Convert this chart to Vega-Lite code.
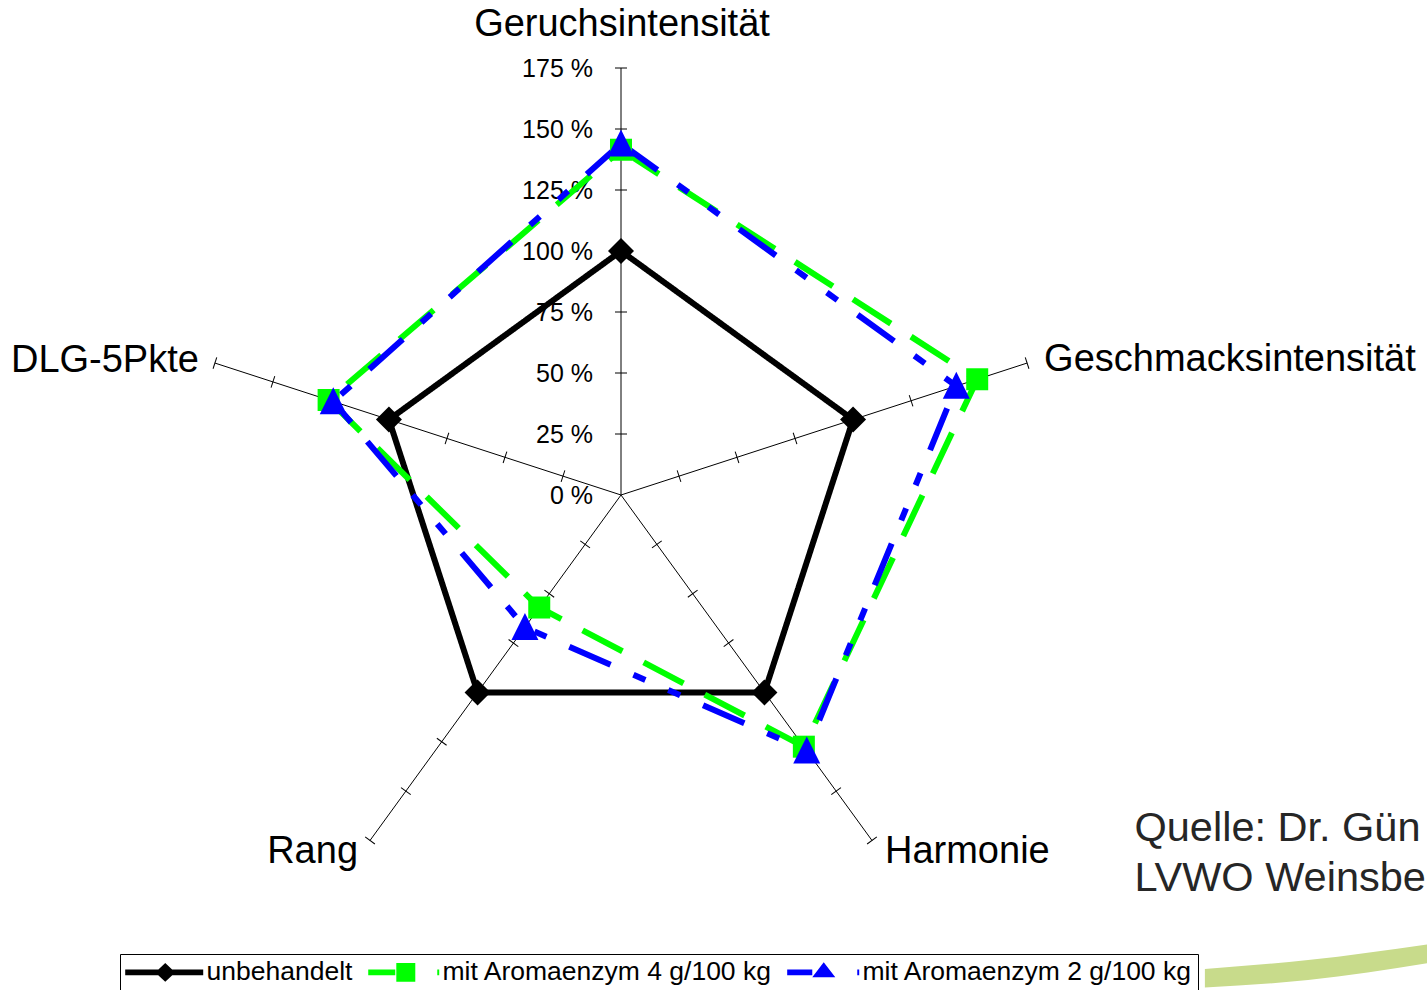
{
  "$schema": "https://vega.github.io/schema/vega-lite/v6.json",
  "width": 1427,
  "height": 990,
  "padding": 0,
  "autosize": {"type": "none"},
  "background": "#ffffff",
  "config": {"view": {"stroke": null}, "font": "Liberation Sans"},
  "datasets": {
    "achsen": [
      {"kategorie": "Geruchsintensität", "marken": [25, 50, 75, 100, 125, 150, 175]},
      {"kategorie": "Geschmacksintensität", "marken": [25, 50, 75, 100, 125, 150, 175]},
      {"kategorie": "Harmonie", "marken": [25, 50, 75, 100, 125, 150, 175]},
      {"kategorie": "Rang", "marken": [25, 50, 75, 100, 125, 150, 175]},
      {"kategorie": "DLG-5Pkte", "marken": [25, 50, 75, 100, 125, 150, 175]}
    ],
    "skala": [{"t": 0}, {"t": 25}, {"t": 50}, {"t": 75}, {"t": 100}, {"t": 125}, {"t": 150}, {"t": 175}],
    "werte": [
      {"serie": "unbehandelt", "kategorie": "Geruchsintensität", "wert": 100},
      {"serie": "unbehandelt", "kategorie": "Geschmacksintensität", "wert": 100},
      {"serie": "unbehandelt", "kategorie": "Harmonie", "wert": 100},
      {"serie": "unbehandelt", "kategorie": "Rang", "wert": 100},
      {"serie": "unbehandelt", "kategorie": "DLG-5Pkte", "wert": 100},
      {"serie": "mit Aromaenzym 4 g/100 kg", "kategorie": "Geruchsintensität", "wert": 141.5},
      {"serie": "mit Aromaenzym 4 g/100 kg", "kategorie": "Geschmacksintensität", "wert": 153.5},
      {"serie": "mit Aromaenzym 4 g/100 kg", "kategorie": "Harmonie", "wert": 127.5},
      {"serie": "mit Aromaenzym 4 g/100 kg", "kategorie": "Rang", "wert": 57},
      {"serie": "mit Aromaenzym 4 g/100 kg", "kategorie": "DLG-5Pkte", "wert": 126},
      {"serie": "mit Aromaenzym 2 g/100 kg", "kategorie": "Geruchsintensität", "wert": 144},
      {"serie": "mit Aromaenzym 2 g/100 kg", "kategorie": "Geschmacksintensität", "wert": 144.5},
      {"serie": "mit Aromaenzym 2 g/100 kg", "kategorie": "Harmonie", "wert": 129.5},
      {"serie": "mit Aromaenzym 2 g/100 kg", "kategorie": "Rang", "wert": 67},
      {"serie": "mit Aromaenzym 2 g/100 kg", "kategorie": "DLG-5Pkte", "wert": 124}
    ],
    "deko": [
      {"bx": 239.3, "oben": -194.3, "unten": -201.8},
      {"bx": 281.6, "oben": -190.6, "unten": -198.8},
      {"bx": 331.6, "oben": -184.0, "unten": -191.7}
    ],
    "quelle": [
      {"zeilen": ["Quelle: Dr. Gün", "LVWO Weinsberg"]}
    ]
  },
  "resolve": {"scale": {"color": "independent", "shape": "independent"}},
  "encoding": {
    "x": {"field": "px", "type": "quantitative", "scale": {"domain": [-254.51, 330.33], "nice": false, "zero": false}, "axis": null},
    "y": {"field": "py", "type": "quantitative", "scale": {"domain": [-202.87, 202.87], "nice": false, "zero": false}, "axis": null}
  },
  "layer": [
    {
      "data": {"name": "deko"},
      "mark": {"type": "area", "color": "#c8db8b", "interpolate": "monotone", "clip": true},
      "encoding": {
        "x": {"field": "bx", "type": "quantitative"},
        "y": {"field": "oben", "type": "quantitative"},
        "y2": {"field": "unten"}
      }
    },
    {
      "data": {"name": "achsen"},
      "transform": [
        {"calculate": "PI/2 - indexof(['Geruchsintensität','Geschmacksintensität','Harmonie','Rang','DLG-5Pkte'], datum.kategorie) * 2 * PI / 5", "as": "a"},
        {"calculate": "175 * cos(datum.a)", "as": "px"},
        {"calculate": "175 * sin(datum.a)", "as": "py"}
      ],
      "mark": {"type": "rule", "color": "#000000", "strokeWidth": 1},
      "encoding": {
        "x": {"datum": 0, "type": "quantitative"},
        "y": {"datum": 0, "type": "quantitative"},
        "x2": {"field": "px"},
        "y2": {"field": "py"}
      }
    },
    {
      "data": {"name": "achsen"},
      "transform": [
        {"flatten": ["marken"]},
        {"calculate": "PI/2 - indexof(['Geruchsintensität','Geschmacksintensität','Harmonie','Rang','DLG-5Pkte'], datum.kategorie) * 2 * PI / 5", "as": "a"},
        {"calculate": "datum.marken * cos(datum.a)", "as": "px"},
        {"calculate": "datum.marken * sin(datum.a)", "as": "py"},
        {"calculate": "90 - datum.a * 180 / PI", "as": "rot"}
      ],
      "mark": {"type": "point", "shape": "M-1,0L1,0", "size": 144, "filled": false, "stroke": "#000000", "strokeWidth": 1, "opacity": 1},
      "encoding": {
        "angle": {"field": "rot", "type": "quantitative", "scale": null}
      }
    },
    {
      "data": {"name": "skala"},
      "transform": [
        {"calculate": "0", "as": "px"},
        {"calculate": "datum.t", "as": "py"},
        {"calculate": "datum.t + ' %'", "as": "label"}
      ],
      "mark": {"type": "text", "align": "right", "baseline": "middle", "dx": -28, "dy": 1, "fontSize": 25, "font": "Liberation Sans", "color": "#000000"},
      "encoding": {"text": {"field": "label"}}
    },
    {
      "data": {"name": "achsen"},
      "transform": [
        {"filter": "datum.kategorie === 'Geruchsintensität'"},
        {"calculate": "0", "as": "px"},
        {"calculate": "175", "as": "py"}
      ],
      "mark": {"type": "text", "align": "center", "baseline": "middle", "dx": 1, "dy": -43, "fontSize": 38, "font": "Liberation Sans", "color": "#000000"},
      "encoding": {"text": {"field": "kategorie"}}
    },
    {
      "data": {"name": "achsen"},
      "transform": [
        {"filter": "datum.kategorie === 'Geschmacksintensität'"},
        {"calculate": "175 * cos(PI/2 - 2*PI/5)", "as": "px"},
        {"calculate": "175 * sin(PI/2 - 2*PI/5)", "as": "py"}
      ],
      "mark": {"type": "text", "align": "left", "baseline": "middle", "dx": 17, "dy": -3, "fontSize": 38, "font": "Liberation Sans", "color": "#000000"},
      "encoding": {"text": {"field": "kategorie"}}
    },
    {
      "data": {"name": "achsen"},
      "transform": [
        {"filter": "datum.kategorie === 'Harmonie'"},
        {"calculate": "175 * cos(PI/2 - 4*PI/5)", "as": "px"},
        {"calculate": "175 * sin(PI/2 - 4*PI/5)", "as": "py"}
      ],
      "mark": {"type": "text", "align": "left", "baseline": "middle", "dx": 13, "dy": 12, "fontSize": 38, "font": "Liberation Sans", "color": "#000000"},
      "encoding": {"text": {"field": "kategorie"}}
    },
    {
      "data": {"name": "achsen"},
      "transform": [
        {"filter": "datum.kategorie === 'Rang'"},
        {"calculate": "175 * cos(PI/2 - 6*PI/5)", "as": "px"},
        {"calculate": "175 * sin(PI/2 - 6*PI/5)", "as": "py"}
      ],
      "mark": {"type": "text", "align": "right", "baseline": "middle", "dx": -12, "dy": 12, "fontSize": 38, "font": "Liberation Sans", "color": "#000000"},
      "encoding": {"text": {"field": "kategorie"}}
    },
    {
      "data": {"name": "achsen"},
      "transform": [
        {"filter": "datum.kategorie === 'DLG-5Pkte'"},
        {"calculate": "175 * cos(PI/2 - 8*PI/5)", "as": "px"},
        {"calculate": "175 * sin(PI/2 - 8*PI/5)", "as": "py"}
      ],
      "mark": {"type": "text", "align": "right", "baseline": "middle", "dx": -16, "dy": -2, "fontSize": 38, "font": "Liberation Sans", "color": "#000000"},
      "encoding": {"text": {"field": "kategorie"}}
    },
    {
      "data": {"name": "werte"},
      "transform": [
        {"calculate": "indexof(['Geruchsintensität','Geschmacksintensität','Harmonie','Rang','DLG-5Pkte'], datum.kategorie)", "as": "idx"},
        {"calculate": "PI/2 - datum.idx * 2 * PI / 5", "as": "a"},
        {"calculate": "datum.wert * cos(datum.a)", "as": "px"},
        {"calculate": "datum.wert * sin(datum.a)", "as": "py"}
      ],
      "mark": {"type": "line", "interpolate": "linear-closed", "strokeWidth": 6, "strokeJoin": "miter"},
      "encoding": {
        "color": {"field": "serie", "type": "nominal", "scale": {"domain": ["unbehandelt", "mit Aromaenzym 4 g/100 kg", "mit Aromaenzym 2 g/100 kg"], "range": ["#000000", "#00ff00", "#0000ff"]}, "legend": null},
        "strokeDash": {"field": "serie", "type": "nominal", "scale": {"domain": ["unbehandelt", "mit Aromaenzym 4 g/100 kg", "mit Aromaenzym 2 g/100 kg"], "range": [[1, 0], [45, 24], [45, 25, 13, 25, 13, 25]]}, "legend": null},
        "order": {"field": "idx", "type": "quantitative"}
      }
    },
    {
      "data": {"name": "werte"},
      "transform": [
        {"calculate": "indexof(['Geruchsintensität','Geschmacksintensität','Harmonie','Rang','DLG-5Pkte'], datum.kategorie)", "as": "idx"},
        {"calculate": "PI/2 - datum.idx * 2 * PI / 5", "as": "a"},
        {"calculate": "datum.wert * cos(datum.a)", "as": "px"},
        {"calculate": "datum.wert * sin(datum.a)", "as": "py"}
      ],
      "mark": {"type": "point", "filled": true, "opacity": 1, "strokeWidth": 0, "size": 729},
      "encoding": {
        "color": {"field": "serie", "type": "nominal", "scale": {"domain": ["unbehandelt", "mit Aromaenzym 4 g/100 kg", "mit Aromaenzym 2 g/100 kg"], "range": ["#000000", "#00ff00", "#0000ff"]}, "legend": null},
        "shape": {"field": "serie", "type": "nominal", "scale": {"domain": ["unbehandelt", "mit Aromaenzym 4 g/100 kg", "mit Aromaenzym 2 g/100 kg"], "range": ["M-0.963,0L0,-0.963L0.963,0L0,0.963Z", "M-0.815,-0.815H0.815V0.815H-0.815Z", "M0,-1.05L1,0.95L-1,0.95Z"]}, "legend": null}
      }
    },
    {
      "data": {"name": "werte"},
      "transform": [
        {"filter": "false"}
      ],
      "mark": {"type": "point", "filled": true, "opacity": 1, "strokeWidth": 0},
      "encoding": {
        "x": {"datum": 0, "type": "quantitative"},
        "y": {"datum": 0, "type": "quantitative"},
        "color": {
          "field": "serie", "type": "nominal",
          "scale": {"domain": ["unbehandelt", "mit Aromaenzym 4 g/100 kg", "mit Aromaenzym 2 g/100 kg"], "range": ["#000000", "#00ff00", "#0000ff"]},
          "legend": {
            "title": null,
            "orient": "none",
            "legendX": 120,
            "legendY": 954,
            "direction": "horizontal",
            "columns": 3,
            "padding": 5,
            "strokeColor": "#000000",
            "fillColor": "#ffffff",
            "labelFont": "Liberation Sans",
            "labelFontSize": 26.5,
            "labelColor": "#000000",
            "labelOffset": 28,
            "labelLimit": 600,
            "columnPadding": 8,
            "symbolOffset": 27,
            "symbolSize": 676,
            "symbolStrokeWidth": 0,
            "symbolStrokeColor": "transparent",
            "symbolOpacity": 1
          }
        },
        "shape": {
          "field": "serie", "type": "nominal",
          "scale": {"domain": ["unbehandelt", "mit Aromaenzym 4 g/100 kg", "mit Aromaenzym 2 g/100 kg"], "range": [
            "M-3.08,-0.23H2.92V0.23H-3.08Z M-0.77,0L0,-0.73L0.77,0L0,0.73Z",
            "M-2.54,-0.23H-0.46V0.23H-2.54Z M-0.38,-0.73H1.08V0.73H-0.38Z M2.77,-0.23H2.92V0.23H2.77Z",
            "M-2.62,-0.23H-0.69V0.23H-2.62Z M0.19,-0.77L1.08,0.38L-0.69,0.38Z M2.77,-0.23H2.92V0.23H2.77Z"
          ]}
        }
      }
    },
    {
      "data": {"name": "quelle"},
      "transform": [
        {"calculate": "210.45", "as": "px"},
        {"calculate": "-141.8", "as": "py"}
      ],
      "mark": {"type": "text", "align": "left", "baseline": "alphabetic", "lineHeight": 50, "fontSize": 41.5, "font": "Liberation Sans", "color": "#262626"},
      "encoding": {"text": {"field": "zeilen"}}
    }
  ]
}
